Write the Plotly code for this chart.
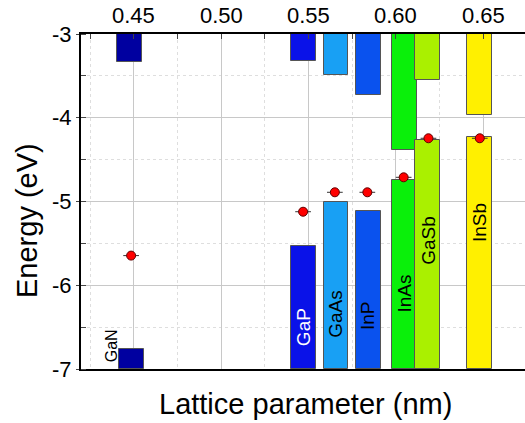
import plotly.graph_objects as go

# Band-edge data for III-V semiconductors (energies in eV vs. vacuum)
materials = ["GaN", "GaP", "GaAs", "InP", "InAs", "GaSb", "InSb"]
lattice_cb = [0.4474, 0.5471, 0.5658, 0.5842, 0.6050, 0.6183, 0.6480]
lattice_vb = [0.4486, 0.5471, 0.5658, 0.5842, 0.6050, 0.6183, 0.6480]
cbm = [-3.334, -3.326, -3.486, -3.732, -4.385, -3.553, -3.967]
vbm = [-6.761, -5.531, -5.002, -5.110, -4.747, -4.266, -4.233]
bar_colors = ["#0000a0", "#0a12e8", "#18a0f4", "#0a52ee", "#0af00a", "#aaf000", "#fff000"]
label_colors = ["black", "white", "black", "black", "black", "black", "black"]

# Charge-neutrality level points with horizontal uncertainty
cnl_x = [0.4484, 0.5469, 0.5651, 0.5837, 0.6045, 0.6187, 0.6481]
cnl_e = [-5.646, -5.122, -4.890, -4.890, -4.711, -4.245, -4.245]
cnl_err = [0.0045, 0.0045, 0.0045, 0.0045, 0.0045, 0.0045, 0.0045]

x_ticks = [0.45, 0.50, 0.55, 0.60, 0.65]
x_ticktext = ["0.45", "0.50", "0.55", "0.60", "0.65"]
y_ticks = [-3, -4, -5, -6, -7]
y_ticktext = ["-3", "-4", "-5", "-6", "-7"]

E_TOP, E_BOTTOM = -3, -7
BAR_W = 0.0141
FONT = "Arial, Liberation Sans, sans-serif"
PLOT_W, PLOT_H = 444, 335

fig = go.Figure()

# Conduction bands hanging from the top of the frame
fig.add_trace(go.Bar(
    x=lattice_cb, base=cbm, y=[E_TOP - c for c in cbm],
    width=[BAR_W] * len(materials),
    marker=dict(color=bar_colors, line=dict(color="#555555", width=1)),
    showlegend=False, hoverinfo="skip",
))
# Valence bands rising from the bottom of the frame
fig.add_trace(go.Bar(
    x=lattice_vb, base=[E_BOTTOM] * len(vbm), y=[v - E_BOTTOM for v in vbm],
    width=[BAR_W] * len(materials),
    marker=dict(color=bar_colors, line=dict(color="#555555", width=1)),
    showlegend=False, hoverinfo="skip",
))
fig.add_trace(go.Scatter(
    x=cnl_x, y=cnl_e, mode="markers",
    marker=dict(color="#ff0000", size=9, line=dict(color="#600000", width=1)),
    error_x=dict(type="data", array=cnl_err, color="#333333", thickness=1, width=0),
    showlegend=False,
))

# Material names written vertically inside the valence bars
label_e = [-6.725, -6.495, -6.34, -6.366, -6.104, -5.46, -5.25]
label_x = [0.4376] + lattice_vb[1:]
label_size = [16, 19, 19, 19, 19, 19, 19]
for name, lx, le, lc, ls in zip(materials, label_x, label_e, label_colors, label_size):
    fig.add_annotation(x=lx, y=le, xref="x", yref="y", text=name, textangle=-90,
                       showarrow=False, font=dict(family=FONT, size=ls, color=lc))

# Tick labels placed close to the frame
tick_font = dict(family=FONT, size=22, color="black")
for tv, tt in zip(x_ticks, x_ticktext):
    fig.add_annotation(x=tv, y=(PLOT_H + 34 - 15.5) / PLOT_H, xref="x", yref="paper",
                       text=tt, showarrow=False, xanchor="center", yanchor="middle",
                       font=tick_font)
for tv, tt in zip(y_ticks, y_ticktext):
    fig.add_annotation(x=-7.5 / PLOT_W, y=tv, xref="paper", yref="y",
                       text=tt, showarrow=False, xanchor="right", yanchor="middle",
                       font=tick_font)

# Axis titles
fig.add_annotation(xref="paper", yref="paper", x=0.5056, y=(369 - 404) / PLOT_H,
                   text="Lattice parameter (nm)", showarrow=False,
                   xanchor="center", yanchor="middle",
                   font=dict(family=FONT, size=29, color="black"))
fig.add_annotation(xref="paper", yref="paper", x=(27 - 81) / PLOT_W, y=(369 - 221) / PLOT_H,
                   text="Energy (eV)", showarrow=False, textangle=-90,
                   xanchor="center", yanchor="middle",
                   font=dict(family=FONT, size=29, color="black"))

fig.update_layout(
    width=525, height=423,
    margin=dict(l=81, r=0, t=34, b=54),
    paper_bgcolor="white", plot_bgcolor="white",
    barmode="overlay", bargap=0,
    font=dict(family=FONT, size=22, color="black"),
    xaxis=dict(
        side="top", range=[0.4197, 0.674],
        tickvals=x_ticks, showticklabels=False,
        ticks="inside", ticklen=5, tickcolor="#444444",
        showline=True, linecolor="black", linewidth=1.5, mirror=True,
        showgrid=True, gridcolor="#c8c8c8", gridwidth=1,
        minor=dict(dtick=0.025, tick0=0.425, ticks="inside", ticklen=5, tickcolor="#444444",
                   showgrid=True, gridcolor="#dedede", griddash="dot", gridwidth=1),
        zeroline=False,
    ),
    yaxis=dict(
        range=[E_BOTTOM, E_TOP],
        tickvals=y_ticks, showticklabels=False,
        ticks="outside", ticklen=3, tickcolor="#444444",
        showline=True, linecolor="black", linewidth=1.5,
        showgrid=True, gridcolor="#c8c8c8", gridwidth=1,
        minor=dict(dtick=0.5, tick0=-3.5, ticks="inside", ticklen=5, tickcolor="#444444",
                   showgrid=True, gridcolor="#dedede", griddash="dot", gridwidth=1),
        zeroline=False,
    ),
)

fig.write_html("out.html")
